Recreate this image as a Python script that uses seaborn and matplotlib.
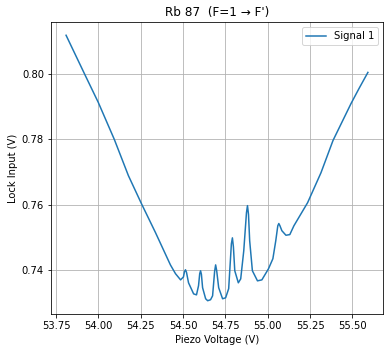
import matplotlib
matplotlib.use("Agg")
import pandas as pd
import matplotlib.pyplot as plt
from matplotlib.ticker import MultipleLocator
import seaborn as sns

# Piezo scan vs lock input
piezo_v = [53.809, 53.922, 53.999, 54.094, 54.177, 54.254, 54.337, 54.425,
           54.455, 54.485, 54.502, 54.508, 54.514, 54.520, 54.532, 54.562,
           54.579, 54.591, 54.598, 54.603, 54.608, 54.615, 54.633, 54.645,
           54.662, 54.674, 54.686, 54.692, 54.698, 54.710, 54.733, 54.751,
           54.769, 54.785, 54.791, 54.797, 54.805, 54.826, 54.840, 54.858,
           54.874, 54.880, 54.886, 54.893, 54.909, 54.939, 54.965, 55.004,
           55.030, 55.047, 55.059, 55.065, 55.071, 55.083, 55.107, 55.130,
           55.154, 55.235, 55.314, 55.385, 55.492, 55.539, 55.591]
lock_v = [0.8120, 0.7997, 0.7914, 0.7800, 0.7689, 0.7603, 0.7514, 0.7415,
          0.7388, 0.7369, 0.7378, 0.7394, 0.7400, 0.7392, 0.7360, 0.7326,
          0.7323, 0.7351, 0.7388, 0.7397, 0.7386, 0.7345, 0.7311, 0.7305,
          0.7308, 0.7320, 0.7395, 0.7415, 0.7398, 0.7345, 0.7311, 0.7314,
          0.7342, 0.7480, 0.7498, 0.7470, 0.7397, 0.7360, 0.7372, 0.7458,
          0.7575, 0.7597, 0.7570, 0.7489, 0.7397, 0.7366, 0.7369, 0.7403,
          0.7434, 0.7489, 0.7535, 0.7542, 0.7536, 0.7520, 0.7506, 0.7508,
          0.7535, 0.7606, 0.7698, 0.7797, 0.7911, 0.7957, 0.8006]

df = pd.DataFrame({"Piezo Voltage (V)": piezo_v, "Lock Input (V)": lock_v})

fig = plt.figure(figsize=(388 / 72, 352 / 72), dpi=72)
ax = fig.add_axes([0.1314, 0.108, 0.8557, 0.8295])

sns.lineplot(x="Piezo Voltage (V)", y="Lock Input (V)", data=df, ax=ax,
             color="#1f77b4", linewidth=1.5, label="Signal 1", sort=False)

ax.yaxis.set_major_locator(MultipleLocator(0.02))
ax.grid(True)
ax.set_title("Rb 87  (F=1 \u2192 F')")
ax.legend(loc="upper right")

fig.savefig("out.png", dpi=72)
